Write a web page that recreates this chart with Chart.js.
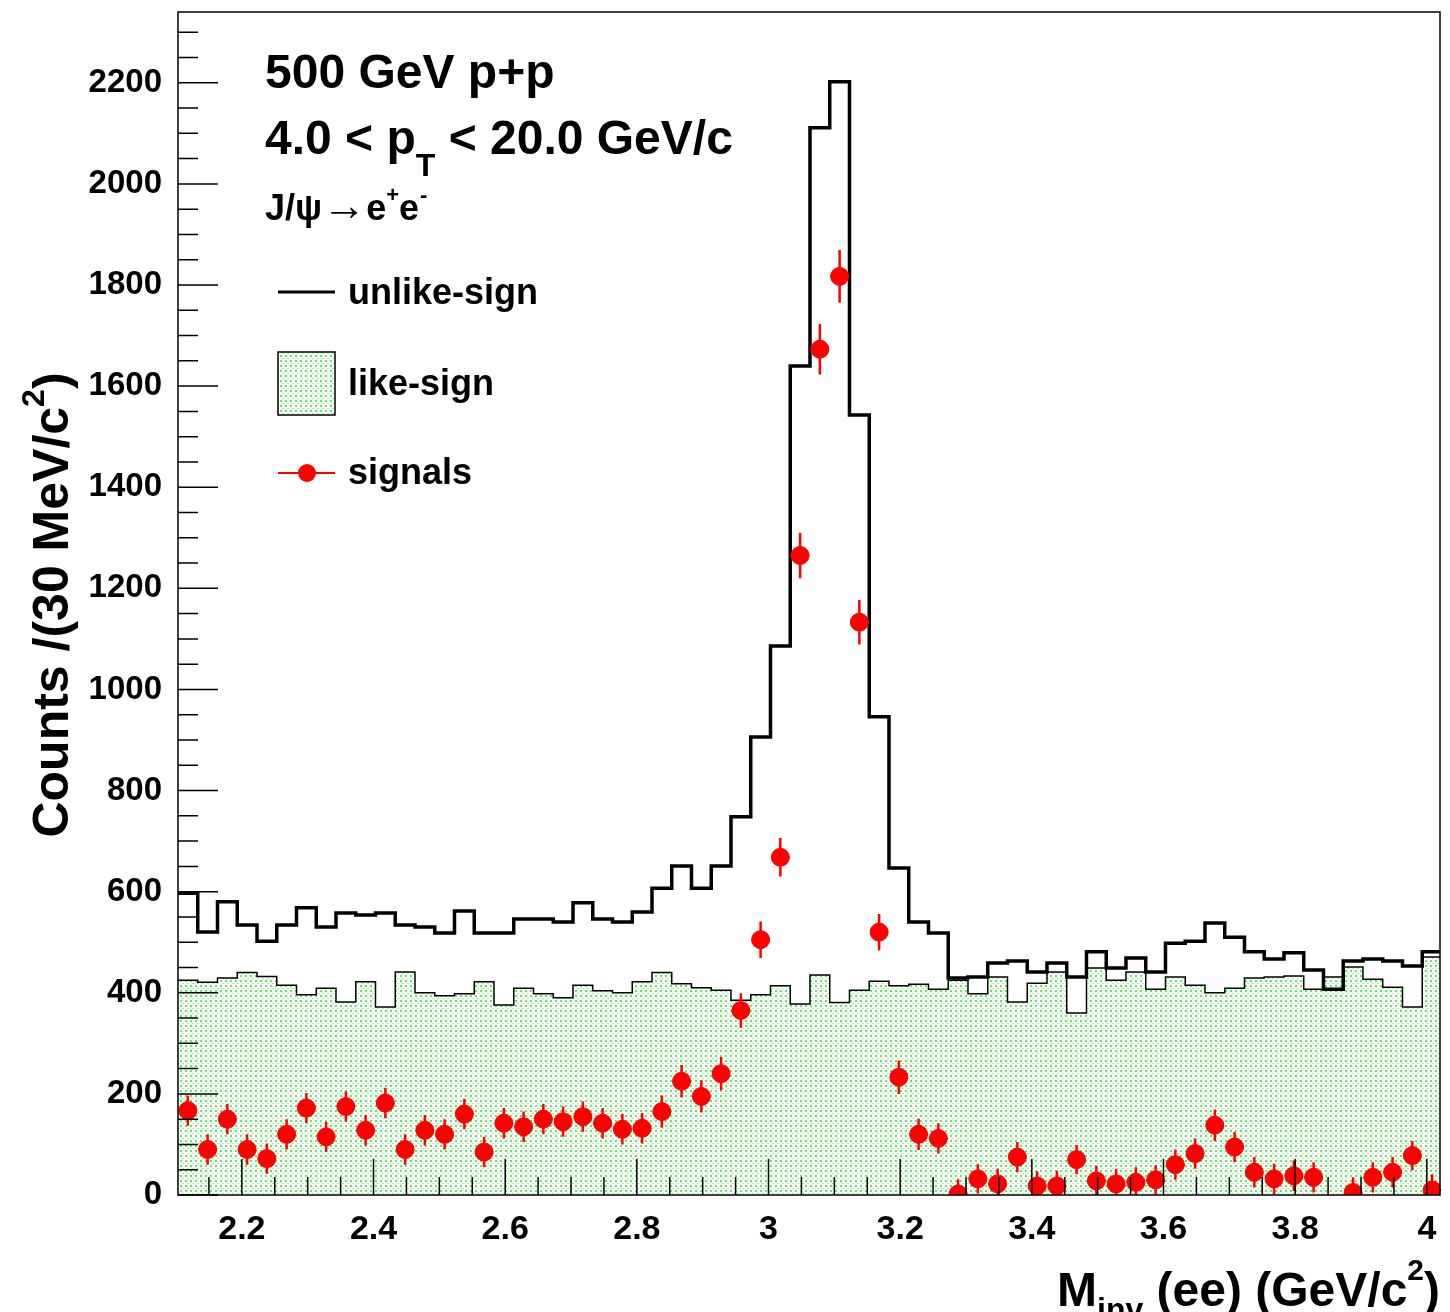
<!DOCTYPE html>
<html>
<head>
<meta charset="utf-8">
<script src="https://cdn.jsdelivr.net/npm/chart.js@4.4.1/dist/chart.umd.min.js"></script>
<style>
  html, body { margin: 0; padding: 0; background: #fff; }
  #wrap { width: 1450px; height: 1312px; }
</style>
</head>
<body>
<div id="wrap"><canvas id="c"></canvas></div>
<script>
// 30 MeV bins starting at the left edge of the plot
const binStart = 2.103;
const binWidth = 0.03;

const unlikeSign = [597, 520, 580, 534, 502, 534, 568, 530, 558, 554, 558, 534, 530, 518, 562, 518,
  518, 546, 546, 540, 578, 546, 540, 560, 607, 651, 607, 651, 748, 906, 1086, 1640,
  2111, 2202, 1543, 946, 647, 540, 518, 429, 431, 459, 463, 441, 459, 431, 481, 449,
  469, 441, 498, 502, 538, 510, 481, 467, 479, 445, 407, 463, 467, 463, 453, 481];

const likeSign = [425, 421, 429, 440, 432, 415, 396, 409, 382, 422, 372, 441, 400, 394, 398, 422,
  376, 409, 398, 390, 415, 404, 400, 422, 440, 418, 410, 405, 385, 396, 414, 378,
  435, 381, 405, 423, 414, 417, 407, 425, 398, 431, 382, 419, 441, 360, 449, 425,
  441, 407, 431, 415, 400, 409, 429, 431, 433, 407, 431, 451, 427, 411, 372, 471];

const signals = [167, 90, 150, 90, 72, 120, 172, 115, 175, 128, 182, 90, 128, 120, 160, 85,
  142, 135, 150, 145, 155, 142, 130, 132, 165, 225, 195, 240, 365, 505, 668, 1265,
  1673, 1817, 1133, 520, 233, 120, 112, 2, 32, 22, 75, 18, 18, 70, 28, 22,
  25, 30, 60, 82, 138, 95, 45, 32, 38, 35, null, 5, 35, 45, 78, 10];

const signalErrors = [30, 30, 30, 30, 30, 30, 30, 30, 30, 30, 30, 30, 30, 30, 30, 30,
  30, 30, 30, 30, 30, 30, 30, 30, 32, 32, 32, 33, 34, 36, 38, 45,
  50, 52, 44, 36, 33, 31, 30, 29, 29, 30, 30, 29, 30, 29, 30, 30,
  30, 29, 30, 30, 31, 30, 30, 30, 30, 30, 30, 30, 30, 30, 29, 31];

const xTickLabels = [2.2, 2.4, 2.6, 2.8, 3.0, 3.2, 3.4, 3.6, 3.8, 4.0];
const yTickLabels = [0, 200, 400, 600, 800, 1000, 1200, 1400, 1600, 1800, 2000, 2200];

const xMin = 2.103, xMax = 4.02, yMin = 0, yMax = 2340;

function stepPoints(vals) {
  const pts = vals.map((v, i) => ({ x: binStart + i * binWidth, y: v }));
  pts.push({ x: binStart + vals.length * binWidth, y: vals[vals.length - 1] });
  return pts;
}

function dotPattern() {
  const c = document.createElement('canvas');
  c.width = 5; c.height = 5;
  const g = c.getContext('2d');
  g.fillStyle = '#ffffff';
  g.fillRect(0, 0, 5, 5);
  g.fillStyle = '#5ee85e';
  g.fillRect(0, 0, 2, 2);
  g.fillStyle = '#a6f2a6';
  g.fillRect(2, 3, 2, 1);
  return g.createPattern(c, 'repeat');
}
const pattern = dotPattern();

const FONT = '"Liberation Sans", Arial, sans-serif';

const decor = {
  id: 'decor',
  afterDatasetsDraw(chart) {
    const ctx = chart.ctx;
    const a = chart.chartArea;
    const xs = chart.scales.x, ys = chart.scales.y;

    // error bars for signals
    ctx.save();
    ctx.strokeStyle = '#ff0000';
    ctx.lineWidth = 2.5;
    signals.forEach((v, i) => {
      if (v === null) return;
      const px = xs.getPixelForValue(binStart + (i + 0.5) * binWidth);
      const y1 = ys.getPixelForValue(Math.max(0, v - signalErrors[i]));
      const y2 = ys.getPixelForValue(v + signalErrors[i]);
      ctx.beginPath();
      ctx.moveTo(px, Math.min(y1, a.bottom));
      ctx.lineTo(px, y2);
      ctx.moveTo(px - 9, ys.getPixelForValue(v));
      ctx.lineTo(px + 9, ys.getPixelForValue(v));
      ctx.stroke();
    });
    ctx.restore();

    // frame and inward ticks
    ctx.save();
    ctx.strokeStyle = '#000';
    ctx.lineWidth = 1.5;
    ctx.strokeRect(a.left, a.top, a.right - a.left, a.bottom - a.top);
    ctx.beginPath();
    for (let v = 0; v <= yMax; v += 50) {
      const py = ys.getPixelForValue(v);
      const len = v % 200 === 0 ? 40 : 20;
      ctx.moveTo(a.left, py); ctx.lineTo(a.left + len, py);
    }
    for (let k = 1; k * 0.05 + 2.1 <= xMax + 1e-9; k++) {
      const v = 2.1 + k * 0.05;
      const px = xs.getPixelForValue(v);
      const major = k % 4 === 2;
      const len = major ? 36 : 18;
      ctx.moveTo(px, a.bottom); ctx.lineTo(px, a.bottom - len);
    }
    ctx.stroke();
    ctx.restore();

    // text block
    ctx.save();
    ctx.fillStyle = '#000';
    ctx.textBaseline = 'alphabetic';
    ctx.font = 'bold 48px ' + FONT;
    ctx.fillText('500 GeV p+p', 265, 88);
    let x = 265;
    ctx.fillText('4.0 < p', x, 154);
    x += ctx.measureText('4.0 < p').width;
    ctx.font = 'bold 32px ' + FONT;
    ctx.fillText('T', x, 176);
    x += ctx.measureText('T').width;
    ctx.font = 'bold 48px ' + FONT;
    ctx.fillText(' < 20.0 GeV/c', x, 154);

    ctx.font = 'bold 36px ' + FONT;
    x = 265;
    ctx.fillText('J/\u03c8', x, 220);
    x += ctx.measureText('J/\u03c8').width;
    ctx.font = 'bold 44px ' + FONT;
    ctx.fillText('\u2192', x, 220);
    x += ctx.measureText('\u2192').width;
    ctx.font = 'bold 36px ' + FONT;
    ctx.fillText('e', x, 220);
    x += ctx.measureText('e').width;
    ctx.font = 'bold 22px ' + FONT;
    ctx.fillText('+', x, 202);
    x += ctx.measureText('+').width;
    ctx.font = 'bold 36px ' + FONT;
    ctx.fillText('e', x, 220);
    x += ctx.measureText('e').width;
    ctx.font = 'bold 22px ' + FONT;
    ctx.fillText('-', x + 1, 202);

    // legend
    ctx.font = 'bold 36px ' + FONT;
    ctx.strokeStyle = '#000';
    ctx.lineWidth = 3;
    ctx.beginPath(); ctx.moveTo(278, 292); ctx.lineTo(335, 292); ctx.stroke();
    ctx.fillText('unlike-sign', 348, 304);

    ctx.fillStyle = pattern;
    ctx.fillRect(278, 352, 57, 63);
    ctx.lineWidth = 1.5;
    ctx.strokeRect(278, 352, 57, 63);
    ctx.fillStyle = '#000';
    ctx.fillText('like-sign', 348, 395);

    ctx.strokeStyle = '#ff0000';
    ctx.lineWidth = 2;
    ctx.beginPath(); ctx.moveTo(278, 473); ctx.lineTo(335, 473); ctx.stroke();
    ctx.fillStyle = '#ff0000';
    ctx.beginPath(); ctx.arc(307, 473, 9, 0, Math.PI * 2); ctx.fill();
    ctx.fillStyle = '#000';
    ctx.fillText('signals', 348, 484);

    // x axis title, right aligned
    ctx.textAlign = 'right';
    let rx = 1440;
    ctx.font = 'bold 48px ' + FONT;
    ctx.fillText(')', rx, 1306);
    rx -= ctx.measureText(')').width;
    ctx.font = 'bold 30px ' + FONT;
    ctx.fillText('2', rx, 1280);
    rx -= ctx.measureText('2').width;
    ctx.font = 'bold 48px ' + FONT;
    ctx.fillText(' (ee) (GeV/c', rx, 1306);
    rx -= ctx.measureText(' (ee) (GeV/c').width;
    ctx.font = 'bold 32px ' + FONT;
    ctx.fillText('inv', rx, 1320);
    rx -= ctx.measureText('inv').width;
    ctx.font = 'bold 48px ' + FONT;
    ctx.fillText('M', rx, 1306);

    // y axis title, rotated
    ctx.translate(68, 605);
    ctx.rotate(-Math.PI / 2);
    ctx.textAlign = 'left';
    ctx.font = 'bold 50px ' + FONT;
    const s1 = 'Counts /(30 MeV/c';
    const w1 = ctx.measureText(s1).width;
    ctx.font = 'bold 32px ' + FONT;
    const w2 = ctx.measureText('2').width;
    ctx.font = 'bold 50px ' + FONT;
    const w3 = ctx.measureText(')').width;
    const sx = -(w1 + w2 + w3) / 2;
    ctx.fillText(s1, sx, 0);
    ctx.font = 'bold 32px ' + FONT;
    ctx.fillText('2', sx + w1, -24);
    ctx.font = 'bold 50px ' + FONT;
    ctx.fillText(')', sx + w1 + w2, 0);
    ctx.restore();
  }
};

new Chart(document.getElementById('c'), {
  type: 'line',
  data: {
    datasets: [
      {
        label: 'like-sign',
        data: stepPoints(likeSign),
        stepped: 'before',
        borderColor: '#000',
        borderWidth: 1.5,
        backgroundColor: pattern,
        fill: 'origin',
        pointRadius: 0,
        order: 3
      },
      {
        label: 'unlike-sign',
        data: stepPoints(unlikeSign),
        stepped: 'before',
        borderColor: '#000',
        borderWidth: 3.5,
        fill: false,
        pointRadius: 0,
        order: 2
      },
      {
        label: 'signals',
        type: 'scatter',
        data: signals.map((v, i) => ({ x: binStart + (i + 0.5) * binWidth, y: v })),
        backgroundColor: '#ff0000',
        borderColor: '#ff0000',
        pointRadius: 9,
        pointStyle: 'circle',
        showLine: false,
        order: 1
      }
    ]
  },
  options: {
    responsive: true,
    maintainAspectRatio: false,
    animation: false,
    layout: { padding: { top: 12, right: 5, left: 0, bottom: 0 } },
    plugins: { legend: { display: false }, tooltip: { enabled: false } },
    scales: {
      x: {
        type: 'linear',
        min: xMin, max: xMax,
        grid: { display: false },
        border: { display: false },
        afterBuildTicks: s => { s.ticks = xTickLabels.map(v => ({ value: v })); },
        afterFit: s => { s.height = 117; s.paddingLeft = 0; s.paddingRight = 0; },
        ticks: {
          color: '#000', padding: 6,
          font: { family: FONT, size: 34, weight: 'bold' },
          callback: v => String(+v.toFixed(1)), maxRotation: 0, autoSkip: false
        }
      },
      y: {
        min: yMin, max: yMax,
        grid: { display: false },
        border: { display: false },
        afterBuildTicks: s => { s.ticks = yTickLabels.map(v => ({ value: v })); },
        afterFit: s => { s.width = 178; s.paddingTop = 0; s.paddingBottom = 0; },
        ticks: {
          color: '#000', padding: 8,
          font: { family: FONT, size: 33, weight: 'bold' },
          callback: v => String(v)
        }
      }
    }
  },
  plugins: [decor]
});
</script>
</body>
</html>
